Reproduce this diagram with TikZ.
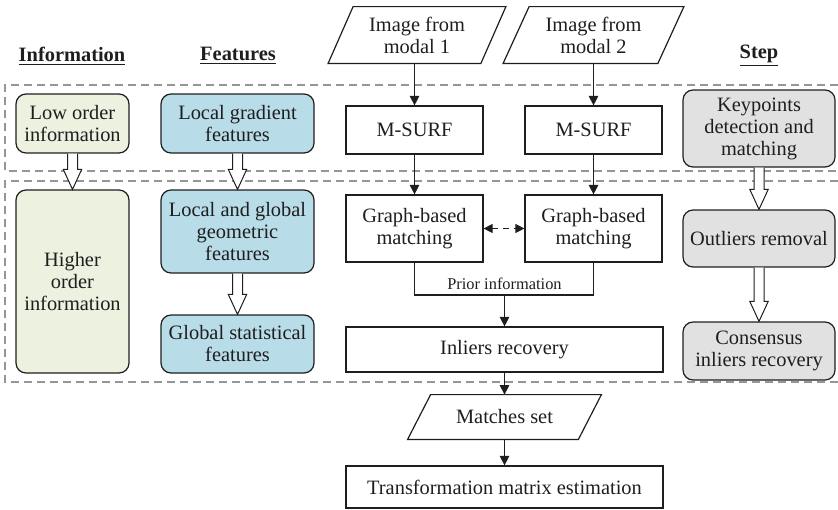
\documentclass[tikz,border=0pt]{standalone}
\usepackage{fontspec}
\setmainfont{Liberation Serif}
\usetikzlibrary{arrows.meta,calc}
\definecolor{greenfill}{RGB}{236,241,224}
\definecolor{bluefill}{RGB}{184,220,232}
\definecolor{grayfill}{RGB}{225,225,225}
\definecolor{dashgray}{RGB}{150,150,150}
\definecolor{inkc}{RGB}{30,30,30}
\newcommand\slantbox[2]{\draw[boxline] ([xshift=#2]#1.north west) -- ([xshift=#2]#1.north east) -- ([xshift=-#2]#1.south east) -- ([xshift=-#2]#1.south west) -- cycle;}
\newcommand\hollowarr[2]{\path let \p1=(#1.south), \p2=(#2.north) in [draw=inkc, fill=white, line width=0.5pt] (\x1-2.5pt,\y1) -- (\x1-2.5pt,\y2+10pt) -- (\x1-4.6pt,\y2+10pt) -- (\x1,\y2) -- (\x1+4.6pt,\y2+10pt) -- (\x1+2.5pt,\y2+10pt) -- (\x1+2.5pt,\y1);}
\begin{document}
\begin{tikzpicture}[x=0.5pt,y=-0.5pt,
  every node/.style={font=\fontsize{10.2}{11}\selectfont, align=center, inner sep=0pt, text=inkc},
  sz/.style 2 args={minimum width=#1*0.5pt, minimum height=#2*0.5pt},
  boxline/.style={draw=inkc, line width=0.6pt},
  plainbox/.style={rectangle, boxline},
  rbox/.style={rectangle, rounded corners=5pt, boxline},
  greenbox/.style={rbox, fill=greenfill},
  bluebox/.style={rbox, fill=bluefill},
  graybox/.style={rbox, fill=grayfill},
  heading/.style={font=\fontsize{10.2}{11}\selectfont\bfseries},
  arr/.style={draw=inkc, line width=0.6pt, -{Triangle[length=4.8pt,width=4.8pt]}},
  dashreg/.style={draw=dashgray, line width=0.6pt, dash pattern=on 4pt off 2.5pt}
]
\useasboundingbox (0,0) rectangle (838,509);

% dashed regions
\draw[dashreg] (838,85) -- (5,85) -- (5,171) -- (838,171);
\draw[dashreg] (838,181) -- (5,181) -- (5,382) -- (838,382);

% headings
\node[heading] (hinfo) at (72,56) {\underline{Information}};
\node[heading] (hfeat) at (238,56) {\underline{Features}};
\node[heading] (hstep) at (759,56) {\underline{Step}};

% information column
\node[greenbox, sz={113}{59}] (low) at (72.5,123.5) {Low order\\information};
\node[greenbox, sz={113}{183}] (high) at (72.5,281.5) {Higher\\order\\information};

% features column
\node[bluebox, sz={153}{59}] (lgf) at (237.5,123.5) {Local gradient\\features};
\node[bluebox, sz={153}{83}] (lggf) at (237.5,231.5) {Local and global\\geometric\\features};
\node[bluebox, sz={153}{58}] (gsf) at (237.5,344) {Global statistical\\features};

% step column
\node[graybox, sz={152}{77}] (kp) at (759,128.5) {Keypoints\\detection and\\matching};
\node[graybox, sz={152}{57}] (outl) at (759,238.5) {Outliers removal};
\node[graybox, sz={152}{58}] (cons) at (759,351) {Consensus\\inliers recovery};

% central flow
\node[sz={152}{56}] (img1) at (417,35) {Image from\\modal 1};
\node[sz={154}{56}] (img2) at (593.5,35) {Image from\\modal 2};
\slantbox{img1}{6.25pt}
\slantbox{img2}{6.5pt}
\node[plainbox, sz={137}{48}] (ms1) at (414.5,130) {M-SURF};
\node[plainbox, sz={137}{48}] (ms2) at (593.5,130) {M-SURF};
\node[plainbox, sz={137}{67}] (gm1) at (414.5,228.5) {Graph-based\\matching};
\node[plainbox, sz={137}{67}] (gm2) at (593.5,228.5) {Graph-based\\matching};
\node[plainbox, sz={317}{45}] (inl) at (504.5,349.5) {Inliers recovery};
\node[sz={170}{44}] (match) at (504.5,417) {Matches set};
\slantbox{match}{5.75pt}
\node[plainbox, sz={317}{42}] (trans) at (504.5,487) {Transformation matrix estimation};

\node[font=\fontsize{8.2}{10}\selectfont] (prior) at (504.5,284) {Prior information};
\coordinate (pj) at (504.5,295);

% connectors
\draw[arr] (img1.south -| ms1.north) -- (ms1.north);
\draw[arr] (img2.south -| ms2.north) -- (ms2.north);
\draw[arr] (ms1.south) -- (gm1.north);
\draw[arr] (ms2.south) -- (gm2.north);
\draw[draw=inkc, line width=0.6pt, dash pattern=on 3pt off 2.5pt,
  {Triangle[length=4.5pt,width=4.5pt]}-{Triangle[length=4.5pt,width=4.5pt]}] (gm1.east) -- (gm2.east -| gm2.west);
\draw[boxline] (gm1.south) |- (pj) -| (gm2.south);
\draw[arr] (pj) -- (inl.north);
\draw[arr] (inl.south) -- (match.north);
\draw[arr] (match.south) -- (trans.north);

% hollow arrows
\hollowarr{low}{high}
\hollowarr{lgf}{lggf}
\hollowarr{lggf}{gsf}
\hollowarr{kp}{outl}
\hollowarr{outl}{cons}
\end{tikzpicture}
\end{document}
